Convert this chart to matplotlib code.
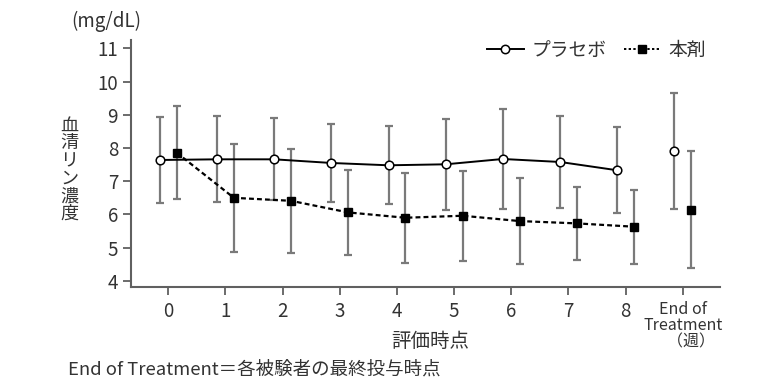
import matplotlib
matplotlib.use("Agg")
import matplotlib.pyplot as plt
import numpy as np

plt.rcParams['font.family'] = ['Noto Sans CJK JP', 'DejaVu Sans']

# data (mean, SD)
weekLabels = ["0", "1", "2", "3", "4", "5", "6", "7", "8", "End of\nTreatment\n\u3000（週）"]
placeboMean = [7.64, 7.66, 7.66, 7.55, 7.48, 7.51, 7.67, 7.58, 7.33, 7.91]
placeboSd = [1.29, 1.29, 1.24, 1.18, 1.18, 1.37, 1.50, 1.39, 1.30, 1.74]
drugMean = [7.86, 6.50, 6.41, 6.06, 5.90, 5.96, 5.80, 5.73, 5.63, 6.14]
drugSd = [1.41, 1.63, 1.56, 1.29, 1.36, 1.36, 1.30, 1.10, 1.12, 1.76]

errColor = "#7a7a7a"
axisColor = "#606060"
textColor = "#333333"

fig = plt.figure(figsize=(7.68, 3.86), dpi=100)
ax = fig.add_axes([0.170, 0.257, 0.7675, 0.639])

x = np.arange(len(weekLabels))
shift = 0.147
xp = x - shift
xd = x + shift

# error bars
ax.errorbar(xp, placeboMean, yerr=placeboSd, fmt='none', ecolor=errColor, elinewidth=1.6, capsize=3, capthick=1.6, zorder=1)
ax.errorbar(xd, drugMean, yerr=drugSd, fmt='none', ecolor=errColor, elinewidth=1.6, capsize=3, capthick=1.6, zorder=1)

# lines over weeks 0-8
ax.plot(xd[:9], drugMean[:9], color='black', lw=1.6, ls=(0, (2.2, 1.4)), zorder=2)
ax.plot(xp[:9], placeboMean[:9], color='black', lw=1.4, zorder=2)

# markers
ax.plot(xp, placeboMean, 'o', ms=6.2, mfc='white', mec='black', mew=1.1, ls='none', zorder=3)
ax.plot(xd, drugMean, 's', ms=5.4, mfc='black', mec='black', ls='none', zorder=3)

# legend proxies
pHandle, = ax.plot([], [], color='black', lw=1.4, marker='o', ms=6, mfc='white', mec='black', mew=1.1)
dHandle, = ax.plot([], [], color='black', lw=1.4, ls=(0, (1.2, 1.2)), marker='s', ms=5.4, mfc='black')
ax.legend([pHandle, dHandle], ["プラセボ", "本剤"], loc='upper right', bbox_to_anchor=(1.005, 1.07),
          ncol=2, frameon=False, handlelength=2.0, handletextpad=0.4, columnspacing=0.9,
          prop={'size': 13.5}, labelcolor=textColor)

ax.set_xlim(-0.66, 9.65)
ax.set_ylim(3.82, 11.25)
ax.set_yticks(range(4, 12))
ax.set_xticks(x)
ax.set_xticklabels(weekLabels)

for side in ['top', 'right']:
    ax.spines[side].set_visible(False)
for side in ['left', 'bottom']:
    ax.spines[side].set_color(axisColor)
    ax.spines[side].set_linewidth(1.5)
ax.tick_params(axis='both', colors=axisColor, width=1.3, length=6, labelcolor=textColor, labelsize=13.5, pad=3)
ax.tick_params(axis='x', pad=4)
eotLabel = ax.get_xticklabels()[-1]
eotLabel.set_fontsize(11.5)
eotLabel.set_linespacing(0.95)

fig.text(0.138, 0.945, "(mg/dL)", ha='center', va='center', fontsize=13.5, color=textColor)
fig.text(0.090, 0.56, "\n".join("血清リン濃度"), ha='center', va='center', fontsize=13,
         linespacing=0.98, color=textColor)
fig.text(0.56, 0.115, "評価時点", ha='center', va='center', fontsize=14, color=textColor)
fig.text(0.088, 0.043, "End of Treatment＝各被験者の最終投与時点", ha='left', va='center', fontsize=13.3,
         color=textColor)

fig.savefig("out.png", dpi=100)
